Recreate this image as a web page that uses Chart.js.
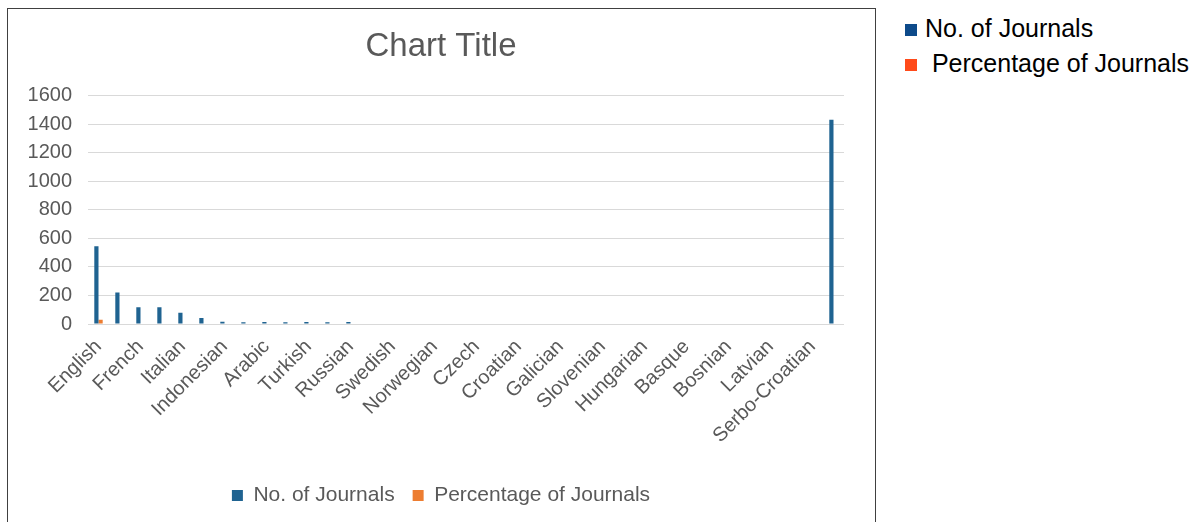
<!DOCTYPE html>
<html>
<head>
<meta charset="utf-8">
<script src="https://cdn.jsdelivr.net/npm/chart.js@4"></script>
<style>
    body { margin: 0; background: #fff; font-family: "Liberation Sans", Arial, sans-serif; }
    #frame { position: absolute; left: 7px; top: 8px; width: 867px; height: 530px; border: 1px solid #404040; }
    #wrap { position: absolute; left: 8px; top: 9px; width: 866px; height: 513px; }
    #side-legend { position: absolute; left: 905px; top: 12px; font-size: 25px; color: #000; }
    #side-legend div { height: 35px; line-height: 32px; white-space: pre; }
    #side-legend span.box { display: inline-block; width: 12px; height: 12px; margin-right: 8px; vertical-align: 1px; }
</style>
</head>
<body>
<div id="frame"></div>
<div id="wrap"><canvas id="chart"></canvas></div>
<div id="side-legend"></div>
<script>
// categories (only every other one is labelled on the axis)
const languages = ['English', 'Spanish', 'French', 'German', 'Italian', 'Portuguese', 'Indonesian', 'Persian',
    'Arabic', 'Chinese', 'Turkish', 'Polish', 'Russian', 'Japanese', 'Swedish', 'Danish', 'Norwegian', 'Dutch',
    'Czech', 'Slovak', 'Croatian', 'Serbian', 'Galician', 'Catalan', 'Slovenian', 'Romanian', 'Hungarian',
    'Lithuanian', 'Basque', 'Greek', 'Bosnian', 'Macedonian', 'Latvian', 'Estonian', 'Serbo-Croatian', 'Total'];

const journals = [545, 220, 118, 118, 78, 42, 15, 13, 14, 13, 14, 13, 14,
    0, 0, 0, 0, 0, 0, 0, 0, 0, 0, 0, 0, 0, 0, 0, 0, 0, 0, 0, 0, 0, 0, 1430];

const percentages = [30, 0, 0, 0, 0, 0, 0, 0, 0, 0, 0, 0, 0,
    0, 0, 0, 0, 0, 0, 0, 0, 0, 0, 0, 0, 0, 0, 0, 0, 0, 0, 0, 0, 0, 0, 0];

const yTicks = [0, 200, 400, 600, 800, 1000, 1200, 1400, 1600];

// outside legend (right of the frame)
const sideLegend = [
    { text: 'No. of Journals', color: '#0D4A8A' },
    { text: ' Percentage of Journals', color: '#FF4A1A' }
];
const side = document.getElementById('side-legend');
sideLegend.forEach(item => {
    const row = document.createElement('div');
    row.innerHTML = `<span class="box" style="background:${item.color}"></span>${item.text}`;
    side.appendChild(row);
});

const grey = '#595959';
const font = 'Liberation Sans';

new Chart(document.getElementById('chart'), {
    type: 'bar',
    data: {
        labels: languages,
        datasets: [
            { label: 'No. of Journals', data: journals, backgroundColor: '#1F6391' },
            { label: 'Percentage of Journals', data: percentages, backgroundColor: '#ED7D31' }
        ]
    },
    options: {
        responsive: true,
        maintainAspectRatio: false,
        animation: false,
        categoryPercentage: 0.4,
        barPercentage: 1.0,
        layout: { padding: { left: 0, right: 0, top: 0, bottom: 6 } },
        plugins: {
            title: {
                display: true,
                text: 'Chart Title',
                color: grey,
                font: { family: font, size: 33, weight: 'normal' },
                padding: { top: 18, bottom: 29 }
            },
            legend: {
                position: 'bottom',
                labels: {
                    color: grey,
                    font: { family: font, size: 21 },
                    boxWidth: 11,
                    boxHeight: 11,
                    padding: 18
                }
            },
            tooltip: { enabled: false }
        },
        scales: {
            x: {
                grid: { display: false },
                border: { display: false },
                ticks: {
                    autoSkip: false,
                    minRotation: 45,
                    maxRotation: 45,
                    color: grey,
                    font: { family: font, size: 20 },
                    callback: (v, i) => (i % 2 === 0 ? languages[i] : '')
                },
                afterFit: (s) => { s.height = 143; }
            },
            y: {
                min: 0,
                max: 1600,
                afterBuildTicks: (s) => { s.ticks = yTicks.map(v => ({ value: v })); },
                grid: { color: '#D9D9D9', drawTicks: false },
                border: { display: false },
                ticks: {
                    color: grey,
                    padding: 16,
                    font: { family: font, size: 20 },
                    callback: (v) => String(v)
                },
                afterFit: (s) => { s.width = 80; }
            },
            // empty right-hand axis, only keeps the plot clear of the frame
            yRight: {
                position: 'right',
                grid: { display: false },
                border: { display: false },
                ticks: { display: false },
                afterFit: (s) => { s.width = 30; }
            }
        }
    }
});
</script>
</body>
</html>
